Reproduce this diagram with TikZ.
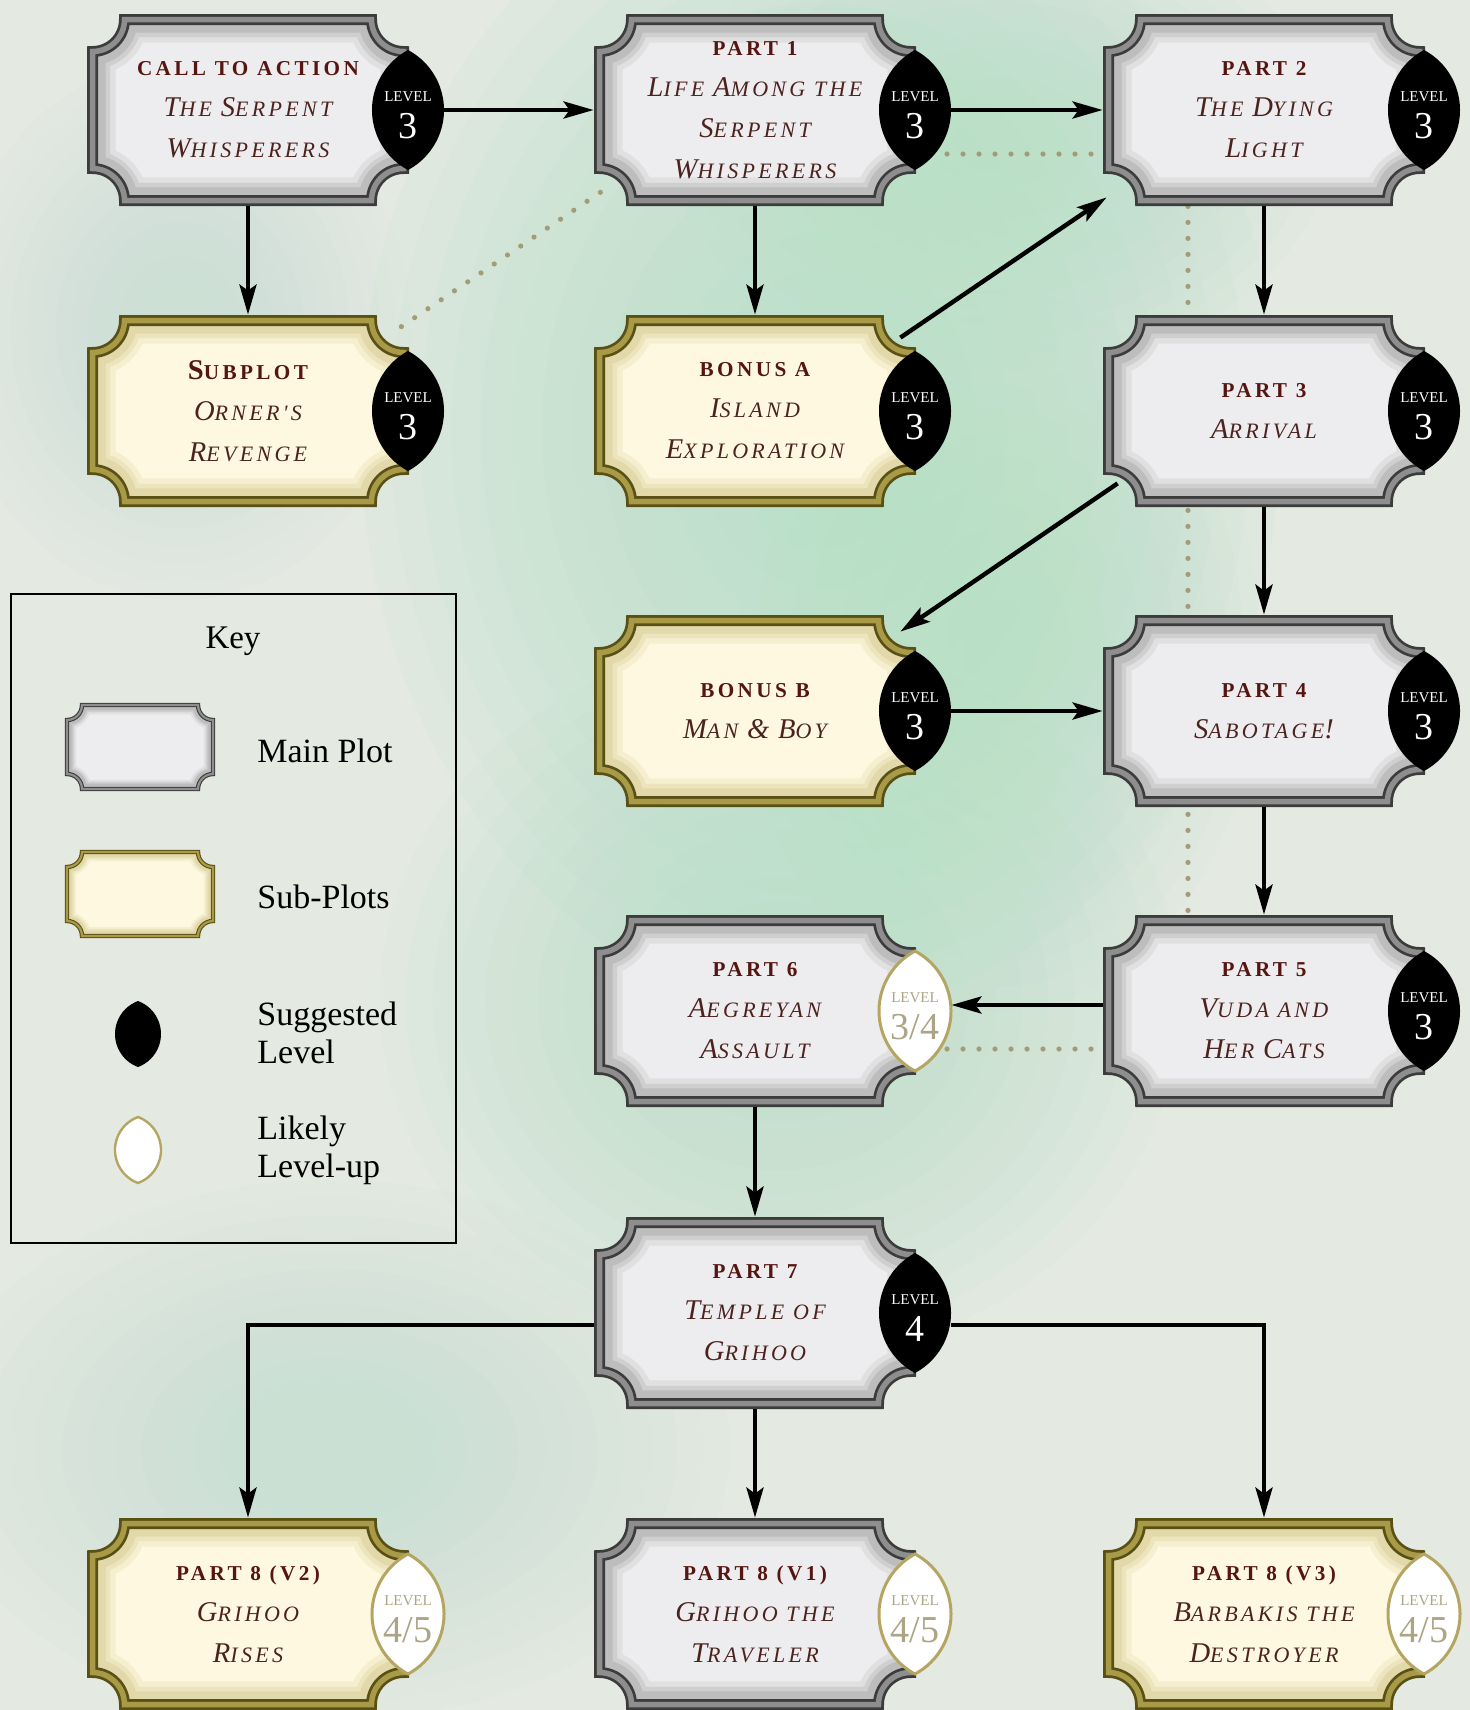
\documentclass[tikz,border=0pt]{standalone}
\usepackage{fontspec}
\setmainfont{Liberation Serif}
\newfontfamily\capfont[LetterSpace=15]{Liberation Serif}
\newfontfamily\ttlfont[LetterSpace=16]{Liberation Serif}
\usetikzlibrary{arrows.meta}
\pgfdeclarelayer{back}
\pgfdeclarelayer{dotlayer}
\pgfsetlayers{back,dotlayer,main}

\definecolor{bgbase}{HTML}{E4E9E2}
\definecolor{bggreen}{HTML}{B4E0C7}
\definecolor{mainDark}{HTML}{3C3C3C}
\definecolor{mainBand}{HTML}{8E8E8E}
\definecolor{mainFill}{HTML}{EDEDEF}
\definecolor{mainShade}{HTML}{6E6E6E}
\definecolor{subDark}{HTML}{585015}
\definecolor{subBand}{HTML}{A89A46}
\definecolor{subFill}{HTML}{FDF8DF}
\definecolor{subShade}{HTML}{B8A550}
\definecolor{ttl}{HTML}{561510}
\definecolor{itl}{HTML}{4C221E}
\definecolor{dotc}{HTML}{A29D76}
\definecolor{wbStroke}{HTML}{B4A662}
\definecolor{wbText}{HTML}{ABA585}

% concave-cornered ticket outline
\newcommand\ticket[5]{(#1-#3+#5,#2-#4) -- (#1+#3-#5,#2-#4) arc[start angle=180,end angle=90,radius=#5] -- (#1+#3,#2+#4-#5) arc[start angle=270,end angle=180,radius=#5] -- (#1-#3+#5,#2+#4) arc[start angle=0,end angle=-90,radius=#5] -- (#1-#3,#2-#4+#5) arc[start angle=90,end angle=0,radius=#5] -- cycle}

\newcommand\Frame[7]{%
  \fill[#1Fill] \ticket{#2}{#3}{#4}{#5}{#6};
  \begin{scope}
    \clip \ticket{#2}{#3}{#4}{#5}{#6};
    \draw[#1Shade, opacity=0.10, line width=#7*4.2pt] \ticket{#2}{#3}{#4}{#5}{#6};
    \draw[#1Shade, opacity=0.14, line width=#7*3.2pt] \ticket{#2}{#3}{#4}{#5}{#6};
    \draw[#1Shade, opacity=0.18, line width=#7*2.4pt] \ticket{#2}{#3}{#4}{#5}{#6};
  \end{scope}
  \draw[#1Dark, line width=#7pt] \ticket{#2}{#3}{#4}{#5}{#6};
  \draw[#1Band, line width=#7*0.5pt] \ticket{#2}{#3}{#4}{#5}{#6};
}

\newcommand\lens[5]{%
  \pgfmathsetmacro\lR{(#5*#5+#4*#4)/(2*#4)}%
  \pgfmathsetmacro\lA{asin(#5/\lR)}%
  \path[#1] (#2,#3-#5) arc[start angle=-\lA,end angle=\lA,radius=\lR] arc[start angle=180-\lA,end angle=180+\lA,radius=\lR] -- cycle;
}

\newcommand\Ttl[1]{{\ttlfont\bfseries\fontsize{10.6pt}{20.5pt}\selectfont\color{ttl}#1}}
\newcommand\Bg[1]{{\fontsize{14.3pt}{20.5pt}\selectfont #1}}
\newcommand\Sm[1]{{\fontsize{11pt}{20.5pt}\selectfont\uppercase{#1}}}
\newcommand\Itl[1]{{\capfont\itshape\color{itl}#1}}

\tikzset{
  boxtext/.style={shape=rectangle, minimum width=161pt, minimum height=96pt, inner sep=0pt, align=center, font=\fontsize{11pt}{20.5pt}\selectfont},
  badge/.style={shape=rectangle, minimum width=36pt, minimum height=60pt, inner sep=0pt},
  lvl/.style={inner sep=0pt, font=\fontsize{7.5pt}{8pt}\selectfont},
  lvn/.style={inner sep=0pt, font=\fontsize{19pt}{19pt}\selectfont},
  arr/.style={draw=black, line width=2.2pt, -{Stealth[length=15pt,width=8.5pt,inset=3pt]}},
  dotline/.style={draw=dotc, line width=2.6pt, line cap=round, dash pattern=on 0pt off 8pt},
  keytext/.style={inner sep=0pt, align=left, anchor=west, font=\fontsize{17pt}{19pt}\selectfont},
}

\newcommand\PlotBox[5]{%
  \Frame{#2}{#3}{#4}{155.5}{90.5}{32}{5.5}%
  \node[boxtext] (#1) at (#3,#4) {#5};%
}
\newcommand\BlackBadge[4]{%
  \lens{fill=black}{#2}{#3}{36}{60}%
  \node[badge] (#1) at (#2,#3) {};%
  \node[lvl, text=white] (#1-l) at (#2,#3-13) {LEVEL};%
  \node[lvn, text=white] (#1-v) at (#2,#3+16) {#4};%
}
\newcommand\WhiteBadge[4]{%
  \lens{fill=white, draw=wbStroke, line width=1.5pt}{#2}{#3}{36}{60}%
  \node[badge] (#1) at (#2,#3) {};%
  \node[lvl, text=wbText] (#1-l) at (#2,#3-13) {LEVEL};%
  \node[lvn, text=wbText] (#1-v) at (#2,#3+16) {#4};%
}

\begin{document}
\begin{tikzpicture}[x=0.5pt,y=-0.5pt]
\useasboundingbox (0,0) rectangle (1470,1710);

\begin{pgfonlayer}{back}
  \fill[bgbase] (0,0) rectangle (1470,1710);
  \foreach \cx/\cy/\rx/\ry/\op in {820/430/460/580/0.09, 780/1000/400/360/0.075, 1000/140/330/230/0.06, 1000/650/260/360/0.05, 330/1450/400/270/0.045, 180/330/230/270/0.035}{
    \foreach \k in {0,...,13}{
      \fill[bggreen, opacity=\op] (\cx,\cy) ellipse[x radius={\rx*(1-0.066*\k)}, y radius={\ry*(1-0.066*\k)}];
    }
  }
\end{pgfonlayer}

% ---- row 1
\PlotBox{cta}{main}{248}{110}{\Ttl{CALL TO ACTION}\\\Itl{\Bg{T}\Sm{he} \Bg{S}\Sm{erpent}}\\\Itl{\Bg{W}\Sm{hisperers}}}
\BlackBadge{cta-b}{408}{110}{3}
\PlotBox{p1}{main}{755}{110}{\Ttl{PART 1}\\\Itl{\Bg{L}\Sm{ife} \Bg{A}\Sm{mong the}}\\\Itl{\Bg{S}\Sm{erpent}}\\\Itl{\Bg{W}\Sm{hisperers}}}
\BlackBadge{p1-b}{915}{110}{3}
\PlotBox{p2}{main}{1264}{110}{\Ttl{PART 2}\\\Itl{\Bg{T}\Sm{he} \Bg{D}\Sm{ying}}\\\Itl{\Bg{L}\Sm{ight}}}
\BlackBadge{p2-b}{1424}{110}{3}
% ---- row 2
\PlotBox{sp}{sub}{248}{411}{\Ttl{\Bg{S}UBPLOT}\\\Itl{\Bg{O}\Sm{rner's}}\\\Itl{\Bg{R}\Sm{evenge}}}
\BlackBadge{sp-b}{408}{411}{3}
\PlotBox{ba}{sub}{755}{411}{\Ttl{BONUS A}\\\Itl{\Bg{I}\Sm{sland}}\\\Itl{\Bg{E}\Sm{xploration}}}
\BlackBadge{ba-b}{915}{411}{3}
\PlotBox{p3}{main}{1264}{411}{\Ttl{PART 3}\\\Itl{\Bg{A}\Sm{rrival}}}
\BlackBadge{p3-b}{1424}{411}{3}
% ---- row 3
\PlotBox{bb}{sub}{755}{711}{\Ttl{BONUS B}\\\Itl{\Bg{M}\Sm{an} \Bg{\&} \Bg{B}\Sm{oy}}}
\BlackBadge{bb-b}{915}{711}{3}
\PlotBox{p4}{main}{1264}{711}{\Ttl{PART 4}\\\Itl{\Bg{S}\Sm{abotage}\Bg{!}}}
\BlackBadge{p4-b}{1424}{711}{3}
% ---- row 4
\PlotBox{p6}{main}{755}{1011}{\Ttl{PART 6}\\\Itl{\Bg{A}\Sm{egreyan}}\\\Itl{\Bg{A}\Sm{ssault}}}
\WhiteBadge{p6-b}{915}{1011}{3/4}
\PlotBox{p5}{main}{1264}{1011}{\Ttl{PART 5}\\\Itl{\Bg{V}\Sm{uda and}}\\\Itl{\Bg{H}\Sm{er} \Bg{C}\Sm{ats}}}
\BlackBadge{p5-b}{1424}{1011}{3}
% ---- row 5
\PlotBox{p7}{main}{755}{1313}{\Ttl{PART 7}\\\Itl{\Bg{T}\Sm{emple of}}\\\Itl{\Bg{G}\Sm{rihoo}}}
\BlackBadge{p7-b}{915}{1313}{4}
% ---- row 6
\PlotBox{p8b}{sub}{248}{1614}{\Ttl{PART 8 (V2)}\\\Itl{\Bg{G}\Sm{rihoo}}\\\Itl{\Bg{R}\Sm{ises}}}
\WhiteBadge{p8b-b}{408}{1614}{4/5}
\PlotBox{p8a}{main}{755}{1614}{\Ttl{PART 8 (V1)}\\\Itl{\Bg{G}\Sm{rihoo the}}\\\Itl{\Bg{T}\Sm{raveler}}}
\WhiteBadge{p8a-b}{915}{1614}{4/5}
\PlotBox{p8c}{sub}{1264}{1614}{\Ttl{PART 8 (V3)}\\\Itl{\Bg{B}\Sm{arbakis the}}\\\Itl{\Bg{D}\Sm{estroyer}}}
\WhiteBadge{p8c-b}{1424}{1614}{4/5}

% ---- dotted links (behind boxes)
\begin{pgfonlayer}{dotlayer}
  \draw[dotline] ([shift={(-8,12)}]sp.north east) -- ([shift={(17,-21)}]p1.south west);
  \draw[dotline] ([yshift=-22pt]p1-b.center) -- ([yshift=-22pt]p2.west);
  \draw[dotline] ([xshift=-38pt]p2.south) -- ([xshift=-38pt]p5.north);
  \draw[dotline] ([yshift=-19pt]p6-b.center) -- ([yshift=-19pt]p5.west);
\end{pgfonlayer}

% ---- arrows
\draw[arr] (cta-b.east) -- (p1.west);
\draw[arr] (p1-b.east) -- (p2.west);
\draw[arr] (cta.south) -- (sp.north);
\draw[arr] (p1.south) -- (ba.north);
\draw[arr] (p2.south) -- (p3.north);
\draw[arr] ([shift={(-16,23)}]ba.north east) -- ([shift={(4,-9)}]p2.south west);
\draw[arr] ([shift={(15,-24)}]p3.south west) -- ([shift={(-16,17)}]bb.north east);
\draw[arr] (p3.south) -- (p4.north);
\draw[arr] (bb-b.east) -- (p4.west);
\draw[arr] (p4.south) -- (p5.north);
\draw[arr] ([yshift=3pt]p5.west) -- ([yshift=3pt]p6-b.east);
\draw[arr] (p6.south) -- (p7.north);
\draw[arr] ([yshift=-6pt]p7.west) -| (p8b.north);
\draw[arr] (p7.south) -- (p8a.north);
\draw[arr] ([yshift=-6pt]p7-b.east) -| (p8c.north);

% ---- key
\draw[black, line width=1.2pt] (11,594) rectangle (456,1243);
\node[inner sep=0pt, font=\fontsize{16.5pt}{19pt}\selectfont] (keyt) at (233,641) {Key};
\Frame{main}{140}{747}{73}{42}{15}{2.2}
\node[keytext] (k1) at (257,751) {Main Plot};
\Frame{sub}{140}{894}{73}{42}{15}{2.2}
\node[keytext] (k2) at (257,897) {Sub-Plots};
\lens{fill=black}{138}{1034}{23}{33}
\node[keytext] (k3) at (257,1033) {Suggested\\Level};
\lens{fill=white, draw=wbStroke, line width=1.2pt}{138}{1150}{23}{33}
\node[keytext] (k4) at (257,1150) {Likely\\Level-up};
\end{tikzpicture}
\end{document}
